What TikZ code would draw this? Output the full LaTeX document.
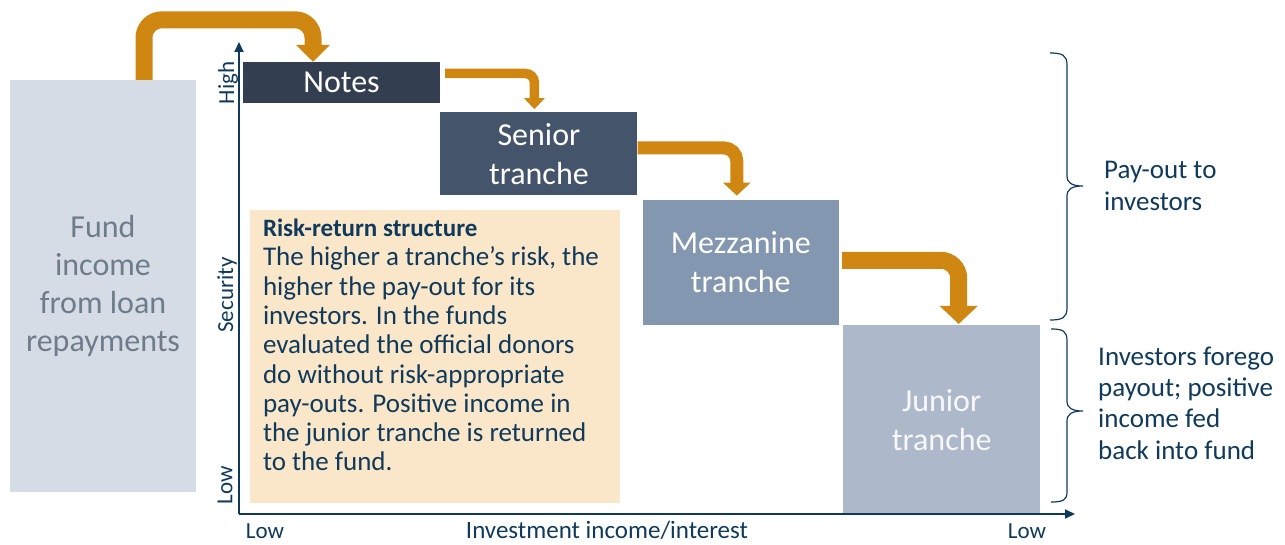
\documentclass[tikz,border=0pt]{standalone}
\usepackage{fontspec}
\setmainfont{Carlito}
\usetikzlibrary{positioning, arrows.meta}

\definecolor{notesblue}{RGB}{51,63,80}
\definecolor{seniorblue}{RGB}{68,84,106}
\definecolor{mezzblue}{RGB}{132,151,176}
\definecolor{juniorblue}{RGB}{173,185,202}
\definecolor{fundgray}{RGB}{214,220,229}
\definecolor{fundtext}{RGB}{110,124,139}
\definecolor{riskbeige}{RGB}{250,230,200}
\definecolor{flowgold}{RGB}{207,135,17}
\definecolor{inkblue}{RGB}{16,58,92}

\tikzset{
    tranche/.style={fill=#1, text=white, minimum width=197pt, align=center,
        inner sep=0pt, font=\fontsize{32}{39}\selectfont},
    flow/.style={draw=flowgold, line cap=butt},
    axis/.style={draw=inkblue, line width=2pt, -{Triangle[width=9pt,length=10pt]}},
    axislabel/.style={text=inkblue, inner sep=0pt, font=\fontsize{23}{27}\selectfont},
    sidelabel/.style={text=inkblue, anchor=west, align=left, inner sep=0pt,
        font=\fontsize{27}{31.3}\selectfont},
    bracket/.style={draw=inkblue, line width=1.2pt}
}

\begin{document}
\begin{tikzpicture}[x=1pt, y=1pt]
    \useasboundingbox (0,0) rectangle (1285,544);

    % Fund
    \node[fill=fundgray, text=fundtext, minimum width=186pt, minimum height=412pt,
        align=center, inner sep=0pt, font=\fontsize{32}{38.3}\selectfont]
        (fund) at (103,258) {Fund\\income\\from loan\\repayments};

    % Tranches
    \node[tranche=notesblue, minimum height=41pt] (notes) at (341.5,461.5) {Notes};
    \node[tranche=seniorblue, minimum height=83pt, below right=9pt and 0pt of notes]
        (senior) {Senior\\tranche};
    \node[tranche=mezzblue, minimum height=125pt, minimum width=196pt,
        below right=4pt and 5pt of senior] (mezz) {Mezzanine\\tranche};
    \node[tranche=juniorblue, text=white!90!juniorblue, minimum height=190pt,
        below right=0pt and 4pt of mezz] (junior) {Junior\\tranche};

    % Risk-return box
    \node[fill=riskbeige, minimum width=370pt, minimum height=293pt, inner sep=0pt]
        (risk) at (435,187.5) {};
    \node[anchor=north west, align=left, text=inkblue, inner sep=0pt,
        font=\fontsize{27}{29.3}\selectfont]
        (risktext) at ([shift={(13,-9)}]risk.north west)
        {{\bfseries\fontsize{25}{29.3}\selectfont Risk-return structure}\\
        The higher a tranche’s risk, the\\
        higher the pay-out for its\\
        investors. In the funds\\
        evaluated the official donors\\
        do without risk-appropriate\\
        pay-outs. Positive income in\\
        the junior tranche is returned\\
        to the fund.};

    % Axes
    \coordinate (origin) at (239,30);
    \coordinate (ytop) at (239,502);
    \coordinate (xend) at (1075,30);
    \draw[axis] (origin) -- (ytop);
    \draw[axis] (origin) -- (xend);

    \node[axislabel, rotate=90] (high) at (228,461) {High};
    \node[axislabel, rotate=90] (security) at (227,249) {Security};
    \node[axislabel, rotate=90] (lowy) at (225,59) {Low};
    \node[axislabel] (lowleft) at (265,13) {Low};
    \node[axislabel, font=\fontsize{25}{29}\selectfont] (income) at (607,14)
        {Investment income/interest};
    \node[axislabel] (lowright) at (1027,13) {Low};

    % Flows
    \draw[flow, line width=17pt, rounded corners=18pt, -{Triangle[width=33pt,length=17pt]}]
        ([xshift=41pt]fund.north) -- ++(0,60) -| ([xshift=-28.5pt]notes.north);
    \draw[flow, line width=9.5pt, rounded corners=9pt, -{Triangle[width=20pt,length=11pt]}]
        ([shift={(5,9)}]notes.east) -| ([shift={(-4.5,3)}]senior.north);
    \draw[flow, line width=13pt, rounded corners=13pt, -{Triangle[width=27pt,length=13pt]}]
        ([yshift=6pt]senior.east) -| ([shift={(-4,4)}]mezz.north);
    \draw[flow, line width=17pt, rounded corners=18pt, -{Triangle[width=37pt,length=18pt]}]
        ([shift={(3,2)}]mezz.east) -| ([shift={(17,1)}]junior.north);

    % Braces
    \draw[bracket] (1050,491) .. controls (1062,491) and (1067,489) .. (1067,479)
        -- (1067,368) .. controls (1067,361) and (1072,358) .. (1083,358)
        .. controls (1072,358) and (1067,355) .. (1067,348)
        -- (1067,236) .. controls (1067,226) and (1062,224) .. (1050,224);
    \draw[bracket] (1051,215) .. controls (1063,215) and (1067,213) .. (1067,203)
        -- (1067,143) .. controls (1067,136) and (1072,133) .. (1083,133)
        .. controls (1072,133) and (1067,130) .. (1067,123)
        -- (1067,52) .. controls (1067,44) and (1063,42) .. (1051,42);

    \node[sidelabel] (payout) at (1104,358) {Pay-out to\\investors};
    \node[sidelabel] (forego) at (1098,141)
        {Investors forego\\payout; positive\\income fed\\back into fund};
\end{tikzpicture}
\end{document}
